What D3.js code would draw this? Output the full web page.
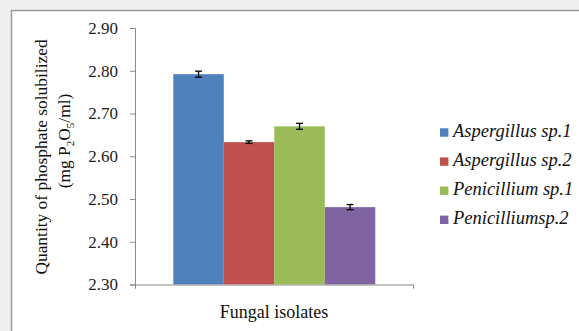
<!DOCTYPE html>
<html>
<head>
<meta charset="utf-8">
<script src="https://cdn.jsdelivr.net/npm/d3@7"></script>
<style>
  body { margin: 0; background: #efefef; }
  svg { display: block; }
  text { font-family: "Liberation Serif", "Times New Roman", serif !important; }
</style>
</head>
<body>
<div id="chart"></div>
<script>
// data
var isolates = ["Aspergillus sp.1", "Aspergillus sp.2", "Penicillium sp.1", "Penicilliumsp.2"];
var means = [2.792, 2.633, 2.670, 2.481];
var errors = [0.007, 0.003, 0.007, 0.006];
var colors = ["#4f81bd", "#c0504d", "#9bbb59", "#8064a2"];
var yTicks = [2.30, 2.40, 2.50, 2.60, 2.70, 2.80, 2.90];

var W = 579, H = 331;
var serif = "Liberation Serif";
var margin = {top: 28, left: 135, bottom: 284.5, right: 413};

var svg = d3.select("#chart")
  .append("svg")
    .attr("width", W)
    .attr("height", H)
    .attr("font-family", serif);

// white panel with grey border
svg.append("rect")
    .attr("x", 11.5)
    .attr("y", 10.5)
    .attr("width", W + 10)
    .attr("height", H + 10)
    .attr("fill", "#fff")
    .attr("stroke", "#9a9a9a")
    .attr("stroke-width", 1.5);

var y = d3.scaleLinear()
    .domain([2.30, 2.90])
    .range([margin.bottom, margin.top]);

var x = d3.scaleBand()
    .domain(isolates)
    .range([173.3, 375.3])
    .padding(0);

// bars
svg.selectAll(".bar")
  .data(isolates)
  .enter()
  .append("rect")
    .attr("class", "bar")
    .attr("x", function(d) { return x(d); })
    .attr("y", function(d, i) { return y(means[i]); })
    .attr("width", x.bandwidth())
    .attr("height", function(d, i) { return y(2.30) - y(means[i]); })
    .attr("fill", function(d, i) { return colors[i]; });

// error bars
var eb = svg.selectAll(".err")
  .data(isolates)
  .enter()
  .append("g")
    .attr("class", "err")
    .attr("stroke", "#000")
    .attr("stroke-width", 1.3);

eb.append("line")
    .attr("x1", function(d) { return x(d) + x.bandwidth() / 2; })
    .attr("x2", function(d) { return x(d) + x.bandwidth() / 2; })
    .attr("y1", function(d, i) { return y(means[i] + errors[i]); })
    .attr("y2", function(d, i) { return y(means[i] - errors[i]); });
eb.append("line")
    .attr("x1", function(d) { return x(d) + x.bandwidth() / 2 - 3.5; })
    .attr("x2", function(d) { return x(d) + x.bandwidth() / 2 + 3.5; })
    .attr("y1", function(d, i) { return y(means[i] + errors[i]); })
    .attr("y2", function(d, i) { return y(means[i] + errors[i]); });
eb.append("line")
    .attr("x1", function(d) { return x(d) + x.bandwidth() / 2 - 3.5; })
    .attr("x2", function(d) { return x(d) + x.bandwidth() / 2 + 3.5; })
    .attr("y1", function(d, i) { return y(means[i] - errors[i]); })
    .attr("y2", function(d, i) { return y(means[i] - errors[i]); });

// y axis
var yAxis = svg.append("g")
    .attr("transform", "translate(" + margin.left + ",0)")
    .call(d3.axisLeft(y).tickValues(yTicks).tickFormat(d3.format(".2f")).tickSize(5).tickPadding(12));
yAxis.attr("font-family", serif).attr("font-size", 17);
yAxis.select(".domain").attr("stroke", "#8c8c8c");
yAxis.selectAll(".tick line").attr("stroke", "#8c8c8c");
yAxis.selectAll(".tick text")
    .attr("fill", "#222");

// x axis line (one category)
var xAxis = svg.append("g")
    .attr("transform", "translate(0," + margin.bottom + ")")
    .call(d3.axisBottom(d3.scaleLinear().domain([0, 1]).range([margin.left, margin.right]))
      .tickValues([0, 1]).tickFormat("").tickSize(4));
xAxis.selectAll("path, line").attr("stroke", "#8c8c8c");

// x title
svg.append("text")
    .attr("x", 274)
    .attr("y", 317.5)
    .attr("text-anchor", "middle")
    .attr("font-size", 18)
    .attr("fill", "#111")
    .text("Fungal isolates");

// y title, two lines
svg.append("text")
    .attr("transform", "translate(47,157) rotate(-90)")
    .attr("text-anchor", "middle")
    .attr("font-size", 17.4)
    .attr("fill", "#111")
    .text("Quantity of phosphate solubilized");
var l2 = svg.append("text")
    .attr("transform", "translate(70,141) rotate(-90)")
    .attr("text-anchor", "middle")
    .attr("font-size", 17.4)
    .attr("fill", "#111");
l2.append("tspan").text("(mg P");
l2.append("tspan").attr("dy", 4).attr("font-size", 11).text("2");
l2.append("tspan").attr("dy", -4).text("O");
l2.append("tspan").attr("dy", 4).attr("font-size", 11).text("5");
l2.append("tspan").attr("dy", -4).text("/ml)");

// legend
var legend = svg.selectAll(".legend")
  .data(isolates)
  .enter()
  .append("g")
    .attr("class", "legend")
    .attr("transform", function(d, i) { return "translate(440," + (136.7 + i * 29.1) + ")"; });
legend.append("rect")
    .attr("x", 0)
    .attr("y", -8.4)
    .attr("width", 8.4)
    .attr("height", 8.4)
    .attr("fill", function(d, i) { return colors[i]; });
legend.append("text")
    .attr("x", 13)
    .attr("y", 0)
    .attr("font-size", 18.5)
    .attr("font-style", "italic")
    .attr("fill", "#111")
    .text(function(d) { return d; });
</script>
</body>
</html>
